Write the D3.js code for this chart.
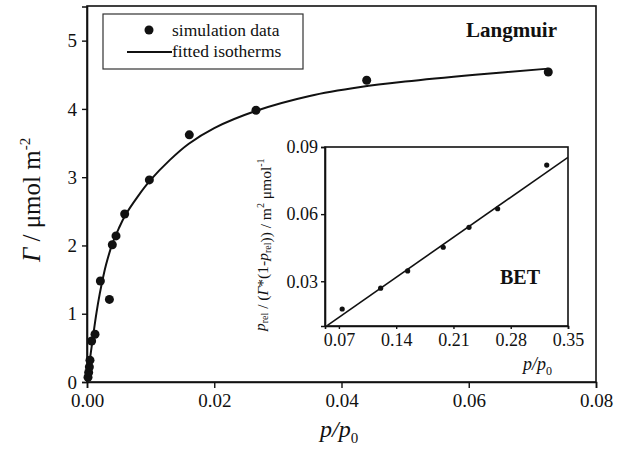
<!DOCTYPE html>
<html>
<head>
<meta charset="utf-8">
<script src="https://cdn.jsdelivr.net/npm/d3@7/dist/d3.min.js"></script>
<style>
  html, body { margin: 0; padding: 0; background: #fff; }
  svg { display: block; }
</style>
</head>
<body>
<svg id="chart" width="630" height="450"></svg>
<script>
// Adsorption isotherm: simulation points and fitted Langmuir curve
const simP = [0.00016, 0.00026, 0.00037, 0.00047, 0.00073, 0.00126, 0.00210, 0.00352,
              0.00398, 0.00456, 0.00592, 0.00980, 0.01608, 0.02656, 0.04396, 0.07250];
const simGamma = [0.07, 0.14, 0.22, 0.32, 0.60, 0.70, 1.48, 1.21,
                  2.01, 2.14, 2.46, 2.96, 3.62, 3.98, 4.42, 4.54];

const fitP = [0, 0.0005, 0.0010, 0.0015, 0.0020, 0.0025, 0.0030, 0.0040, 0.0050, 0.0060,
              0.0080, 0.0100, 0.0130, 0.0160, 0.0200, 0.0265, 0.0350, 0.0430, 0.0500,
              0.0610, 0.0725];
const fitGamma = [0, 0.36, 0.70, 1.02, 1.29, 1.52, 1.72, 2.03, 2.25, 2.44,
                  2.72, 2.96, 3.25, 3.49, 3.72, 3.97, 4.19, 4.32, 4.40,
                  4.50, 4.59];

// BET linearisation (inset)
const betP = [0.074, 0.121, 0.154, 0.1975, 0.229, 0.264, 0.324];
const betY = [0.0176, 0.0269, 0.0346, 0.0452, 0.0541, 0.0624, 0.0819];
const betFitP = [0.056, 0.35];
const betFitY = [0.0103, 0.0854];

const mainXTicks = [0, 0.02, 0.04, 0.06, 0.08];
const mainYTicks = [0, 1, 2, 3, 4, 5];
const insetXTicks = [0.07, 0.14, 0.21, 0.28, 0.35];
const insetYTicks = [0.03, 0.06, 0.09];

const ink = "#111";
const serif = "'Liberation Serif', 'Times New Roman', serif";
const svg = d3.select("#chart");

function styleAxis(g, size) {
  g.attr("font-family", null);
  g.select(".domain").attr("stroke", ink).attr("stroke-width", 1.6);
  g.selectAll(".tick line").attr("stroke", ink).attr("stroke-width", 1.4);
  g.selectAll(".tick text")
    .style("font-family", serif).style("font-size", size + "px").attr("fill", ink);
}

function label(x, y, size) {
  return svg.append("text").attr("x", x).attr("y", y)
    .style("font-family", serif).style("font-size", size + "px").attr("fill", ink);
}

// ---------- main panel ----------
const M = { left: 87, right: 596, top: 6, bottom: 382 };
const x = d3.scaleLinear().domain([0, 0.08]).range([M.left, M.right]);
const y = d3.scaleLinear().domain([0, 5.5]).range([M.bottom, M.top + 0.5]);

svg.append("rect")
  .attr("x", M.left).attr("y", M.top)
  .attr("width", M.right - M.left).attr("height", M.bottom - M.top)
  .attr("fill", "none").attr("stroke", ink).attr("stroke-width", 1.6);

styleAxis(svg.append("g")
  .attr("transform", `translate(0,${M.bottom})`)
  .call(d3.axisBottom(x).tickValues(mainXTicks).tickFormat(d3.format(".2f")).tickSize(6).tickPadding(6)), 19);
styleAxis(svg.append("g")
  .attr("transform", `translate(${M.left},0)`)
  .call(d3.axisLeft(y).tickValues(mainYTicks).tickFormat(d3.format("d")).tickSize(5).tickPadding(5)), 19);

// fitted curve
const line = d3.line().x(d => x(d[0])).y(d => y(d[1])).curve(d3.curveCatmullRom.alpha(0.5));
svg.append("path")
  .datum(fitP.map((p, i) => [p, fitGamma[i]]))
  .attr("d", line)
  .attr("fill", "none").attr("stroke", ink).attr("stroke-width", 2);

// simulation points
svg.append("g").selectAll("circle")
  .data(simP.map((p, i) => [p, simGamma[i]]))
  .join("circle")
  .attr("cx", d => x(d[0])).attr("cy", d => y(d[1]))
  .attr("r", 4.5).attr("fill", ink);

// axis titles
const yTitle = svg.append("text")
  .attr("transform", "translate(40,262) rotate(-90)")
  .style("font-family", serif).style("font-size", "25px").attr("fill", ink);
yTitle.append("tspan").attr("font-style", "italic").text("Γ");
yTitle.append("tspan").text(" / μmol m");
yTitle.append("tspan").style("font-size", "15px").attr("dy", -10).text("-2");

const xTitle = label(320, 437, 24).attr("font-style", "italic");
xTitle.append("tspan").text("p/p");
xTitle.append("tspan").style("font-size", "15px").attr("dy", 6).attr("font-style", "normal").text("0");

label(466, 37, 21).attr("font-weight", "bold").text("Langmuir");

// legend
const L = { x: 103, y: 14, w: 200, h: 55 };
svg.append("rect").attr("x", L.x).attr("y", L.y).attr("width", L.w).attr("height", L.h)
  .attr("fill", "#fff").attr("stroke", "#333").attr("stroke-width", 1.2);
svg.append("circle").attr("cx", 149).attr("cy", 30).attr("r", 4.5).attr("fill", ink);
label(172, 35.5, 17.5).text("simulation data");
svg.append("line").attr("x1", 127).attr("x2", 172).attr("y1", 52).attr("y2", 52)
  .attr("stroke", ink).attr("stroke-width", 2);
label(172, 57, 17.5).text("fitted isotherms");

// ---------- inset: BET plot ----------
const I = { left: 325, right: 568, top: 147, bottom: 326 };
const xi = d3.scaleLinear().domain([0.053, 0.35]).range([I.left, I.right]);
const yi = d3.scaleLinear().domain([0.01, 0.09]).range([I.bottom, I.top]);

svg.append("rect")
  .attr("x", I.left).attr("y", I.top)
  .attr("width", I.right - I.left).attr("height", I.bottom - I.top)
  .attr("fill", "#fff").attr("stroke", ink).attr("stroke-width", 1.6);

styleAxis(svg.append("g")
  .attr("transform", `translate(0,${I.bottom})`)
  .call(d3.axisBottom(xi).tickValues(insetXTicks).tickFormat(d3.format(".2f")).tickSize(3).tickPadding(4)), 18);
styleAxis(svg.append("g")
  .attr("transform", `translate(${I.left},0)`)
  .call(d3.axisLeft(yi).tickValues(insetYTicks).tickFormat(d3.format(".2f")).tickSize(4).tickPadding(3)), 18);

svg.append("defs").append("clipPath").attr("id", "insetClip")
  .append("rect").attr("x", I.left).attr("y", I.top)
  .attr("width", I.right - I.left).attr("height", I.bottom - I.top);

svg.append("path")
  .datum(betFitP.map((p, i) => [p, betFitY[i]]))
  .attr("clip-path", "url(#insetClip)")
  .attr("d", d3.line().x(d => xi(d[0])).y(d => yi(d[1])))
  .attr("fill", "none").attr("stroke", ink).attr("stroke-width", 1.6);

svg.append("g").selectAll("circle")
  .data(betP.map((p, i) => [p, betY[i]]))
  .join("circle")
  .attr("cx", d => xi(d[0])).attr("cy", d => yi(d[1]))
  .attr("r", 2.6).attr("fill", ink);

label(500, 284, 20).attr("font-weight", "bold").text("BET");

const xiTitle = label(523, 370, 18).attr("font-style", "italic");
xiTitle.append("tspan").text("p/p");
xiTitle.append("tspan").style("font-size", "12px").attr("dy", 5).attr("font-style", "normal").text("0");

// inset y title: p_rel / (Γ*(1-p_rel)) / m² μmol⁻¹
const yiTitle = svg.append("text")
  .attr("transform", "translate(265,331) rotate(-90)")
  .style("font-family", serif).style("font-size", "15.5px").attr("fill", ink);
const sub = (t) => {
  yiTitle.append("tspan").style("font-size", "10px").attr("dy", 3).text(t);
  yiTitle.append("tspan").attr("dy", -3).text("");
};
yiTitle.append("tspan").attr("font-style", "italic").text("p");
sub("rel");
yiTitle.append("tspan").text(" / (");
yiTitle.append("tspan").attr("font-style", "italic").text("Γ");
yiTitle.append("tspan").text("*(1-");
yiTitle.append("tspan").attr("font-style", "italic").text("p");
sub("rel");
yiTitle.append("tspan").text(")) / m");
yiTitle.append("tspan").style("font-size", "10px").attr("dy", -7).text("2");
yiTitle.append("tspan").attr("dy", 7).text(" μmol");
yiTitle.append("tspan").style("font-size", "10px").attr("dy", -7).text("-1");
</script>
</body>
</html>
